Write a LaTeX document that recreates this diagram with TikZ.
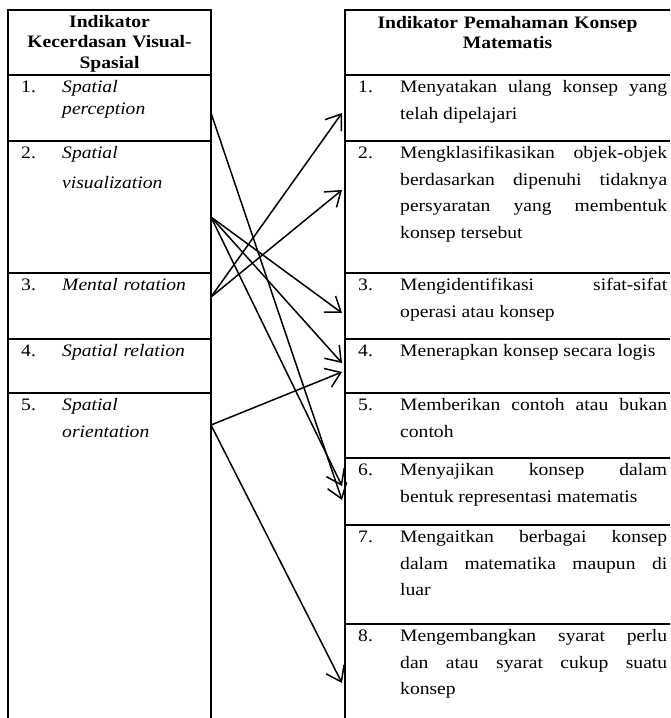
\documentclass[tikz,border=0pt]{standalone}
\usepackage{fontspec}
\setmainfont[FakeStretch=1.12]{Liberation Serif}
\usetikzlibrary{arrows.meta}

\begin{document}
\begin{tikzpicture}[x=1pt,y=-1pt,
  grid/.style={line width=1.8pt},
  head/.style={font=\fontsize{17.5}{20.5}\selectfont\bfseries,align=center,anchor=base,inner sep=0pt},
  num/.style={font=\fontsize{17.5}{26.7}\selectfont,anchor=base west,inner sep=0pt},
  item/.style={font=\fontsize{17.5}{26.7}\selectfont\itshape,anchor=base west,inner sep=0pt,text width=145pt,align=left},
  desc/.style={font=\fontsize{17.5}{26.7}\selectfont,anchor=base west,inner sep=0pt,text width=267pt,align=justify},
  link/.style={line width=1.5pt,-{Straight Barb[length=14pt,width=20pt]}}]
\useasboundingbox (0,0) rectangle (670,718);

% left table
\draw[grid] (8,718) -- (8,10) -- (211,10) -- (211,718);
\foreach \y in {75,141,273,339,393} \draw[grid] (8,\y) -- (211,\y);
\node[head,text width=200pt] (lhead) at (109.5,27) {Indikator\\Kecerdasan Visual-\\Spasial};
\node[num] (ln1) at (21,92.5) {1.};
\node[item] (li1) at (62,92.5) {Spatial\\[-5pt]perception};
\node[num] (ln2) at (21,158.5) {2.};
\node[item] (li2) at (62,158.5) {Spatial\\[3pt]visualization};
\node[num] (ln3) at (21,290.5) {3.};
\node[item] (li3) at (62,290.5) {Mental rotation};
\node[num] (ln4) at (21,356.5) {4.};
\node[item] (li4) at (62,356.5) {Spatial relation};
\node[num] (ln5) at (21,410.5) {5.};
\node[item] (li5) at (62,410.5) {Spatial\\orientation};

% right table
\draw[grid] (345,718) -- (345,10) -- (670,10);
\foreach \y in {75,141,273,339,393,458,525,624} \draw[grid] (345,\y) -- (670,\y);
\node[head,text width=320pt] (rhead) at (507.5,28) {Indikator Pemahaman Konsep\\Matematis};
\node[num] (rn1) at (358,92.5) {1.};
\node[desc] (rd1) at (400,92.5) {Menyatakan ulang konsep yang\linebreak telah dipelajari};
\node[num] (rn2) at (358,158.5) {2.};
\node[desc] (rd2) at (400,158.5) {Mengklasifikasikan objek-objek\linebreak berdasarkan dipenuhi tidaknya\linebreak persyaratan yang membentuk\linebreak konsep tersebut};
\node[num] (rn3) at (358,290.5) {3.};
\node[desc] (rd3) at (400,290.5) {Mengidentifikasi sifat-sifat\linebreak operasi atau konsep};
\node[num] (rn4) at (358,356.5) {4.};
\node[desc] (rd4) at (400,356.5) {Menerapkan konsep secara logis};
\node[num] (rn5) at (358,410.5) {5.};
\node[desc] (rd5) at (400,410.5) {Memberikan contoh atau bukan\linebreak contoh};
\node[num] (rn6) at (358,475.5) {6.};
\node[desc] (rd6) at (400,475.5) {Menyajikan konsep dalam\linebreak bentuk representasi matematis};
\node[num] (rn7) at (358,542.5) {7.};
\node[desc] (rd7) at (400,542.5) {Mengaitkan berbagai konsep\linebreak dalam matematika maupun di\linebreak luar};
\node[num] (rn8) at (358,641.5) {8.};
\node[desc] (rd8) at (400,641.5) {Mengembangkan syarat perlu\linebreak dan atau syarat cukup suatu\linebreak konsep};

% arrow ends
\coordinate (per) at (211,113);
\coordinate (vis) at (211,217);
\coordinate (rot) at (211,297);
\coordinate (ori) at (211,425);
\coordinate (k1) at (342,113);
\coordinate (k2) at (342,190);
\coordinate (k3) at (342,313);
\coordinate (k4a) at (342,363);
\coordinate (k4b) at (342,372);
\coordinate (k6a) at (342,486);
\coordinate (k6b) at (342,500);
\coordinate (k8) at (342,683);

\draw[link] (per) -- (k6b);
\draw[link] (vis) -- (k3);
\draw[link] (vis) -- (k4a);
\draw[link] (vis) -- (k6a);
\draw[link] (rot) -- (k1);
\draw[link] (rot) -- (k2);
\draw[link] (ori) -- (k4b);
\draw[link] (ori) -- (k8);
\end{tikzpicture}
\end{document}
